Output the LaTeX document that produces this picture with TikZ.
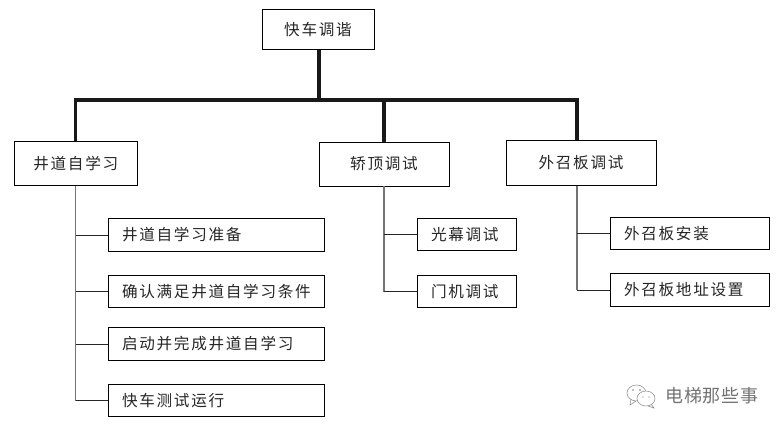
\documentclass[tikz,border=0pt]{standalone}
\usepackage{fontspec}
\setmainfont{Noto Sans CJK SC}[LetterSpace=11,Scale=0.9]
\newfontfamily\markfont{Noto Sans CJK SC}[LetterSpace=4]
\tikzset{
  mainbox/.style={draw, line width=0.7pt, fill=white, inner sep=0pt, text=black!85, font=\fontsize{13}{15}\selectfont},
  taskbox/.style={mainbox, text width=#1*0.75pt-21pt, inner xsep=10.5pt, minimum height=24.5pt, align=left},
  busline/.style={line width=2.3pt, black!90},
  trunkline/.style={line width=0.9pt, black!55},
  tickline/.style={line width=0.7pt, black!85},
  bubble/.style={draw=black!45, line width=0.4pt, fill=white}
}
\begin{document}
\begin{tikzpicture}[x=0.75pt,y=-0.75pt]
  \useasboundingbox (0,0) rectangle (784,429);

  \node[mainbox, minimum width=84pt, minimum height=29.5pt] (root) at (318,29.5) {快车调谐};
  \node[mainbox, minimum width=92pt, minimum height=33.5pt] (well) at (75.75,163.5) {井道自学习};
  \node[mainbox, minimum width=97.5pt, minimum height=33pt] (car) at (384,164) {轿顶调试};
  \node[mainbox, minimum width=112.5pt, minimum height=33.5pt] (hall) at (581,163) {外召板调试};

  \coordinate (hub) at (319,100);
  \coordinate (hallbus) at (577,100);

  \node[taskbox=216] (well1) at (216,235) {井道自学习准备};
  \node[taskbox=216] (well2) at (216,291.5) {确认满足井道自学习条件};
  \node[taskbox=216] (well3) at (216,344) {启动并完成井道自学习};
  \node[taskbox=216] (well4) at (216,400.5) {快车测试运行};

  \node[taskbox=99] (car1) at (466.5,234.5) {光幕调试};
  \node[taskbox=99] (car2) at (466.5,291.5) {门机调试};

  \node[taskbox=159] (hall1) at (689.5,233.5) {外召板安装};
  \node[taskbox=159] (hall2) at (689.5,290) {外召板地址设置};

  % heavy bus under the root box
  \draw[busline] (root.south -| hub) -- (hub);
  \draw[busline, line join=miter] (well.north) -- (well.north |- hub) -- (hallbus) -- (hallbus |- hall.north);
  \draw[busline] (car.north |- hub) -- (car.north);

  % trunks with their ticks
  \draw[trunkline] (well.south) -- (well.south |- well4.west);
  \foreach \t in {well1,well2,well3,well4}
    \draw[tickline] (well.south |- \t.west) -- (\t.west);

  \draw[trunkline] (car.south) -- (car.south |- car2.west);
  \foreach \t in {car1,car2}
    \draw[tickline] (car.south |- \t.west) -- (\t.west);

  \draw[trunkline] (hallbus |- hall.south) -- (hallbus |- hall2.west);
  \foreach \t in {hall1,hall2}
    \draw[tickline] (hallbus |- \t.west) -- (\t.west);

  % logo with the two bubbles
  \draw[bubble] (631,399) -- (630,405) -- (636,401);
  \draw[bubble] (636.5,393) ellipse (9.5 and 8);
  \draw[bubble] (651,404) -- (654,408) -- (648,406);
  \draw[bubble] (646,398.5) ellipse (9 and 7.5);
  \fill[black!50] (633,390) circle (0.8) (640,390) circle (0.8) (643,397) circle (0.7) (649,397) circle (0.7);
  \node[inner sep=0pt, text=black!55, font=\markfont\fontsize{13.5}{15}\selectfont] (mark) at (712,396) {电梯那些事};
\end{tikzpicture}
\end{document}
